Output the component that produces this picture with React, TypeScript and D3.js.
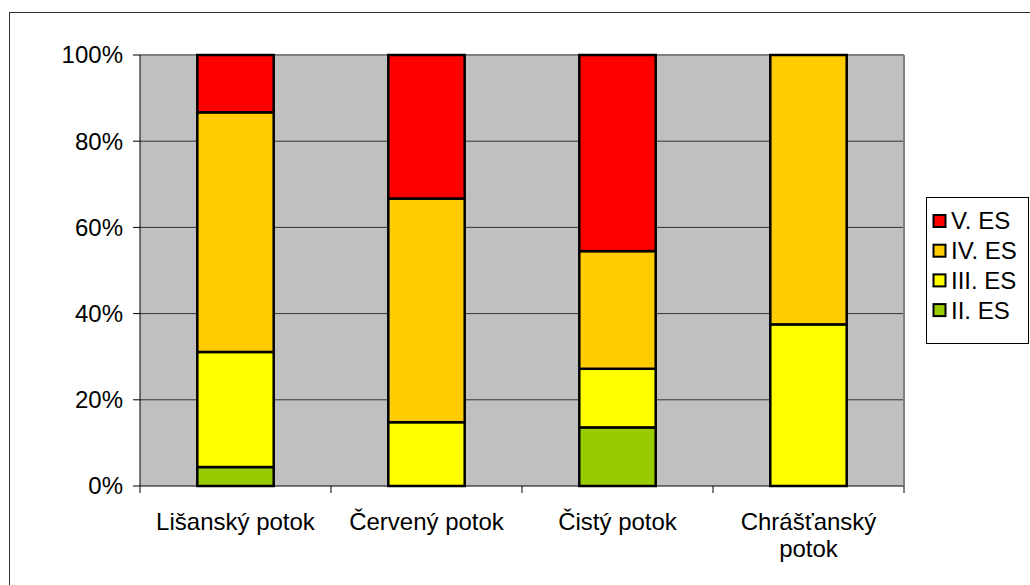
import React from "react";
import * as d3 from "d3";

const categories: string[][] = [["Lišanský potok"], ["Červený potok"], ["Čistý potok"], ["Chrášťanský", "potok"]];
const seriesNames = ["II. ES", "III. ES", "IV. ES", "V. ES"];
const seriesColors = ["#99CC00", "#FFFF00", "#FFCC00", "#FF0000"];
const esII = [4.4, 0, 13.6, 0];
const esIII = [26.7, 14.8, 13.6, 37.5];
const esIV = [55.6, 51.9, 27.3, 62.5];
const esV = [13.3, 33.3, 45.5, 0];
const yTicks = [0, 20, 40, 60, 80, 100];

const W = 1030, H = 585;
const plot = { left: 140, right: 904, top: 55, bottom: 486 };
const FONT = "Liberation Sans, Arial, sans-serif";
const FS = 24;

export default function App() {
  const series = [esII, esIII, esIV, esV];
  const x = d3.scaleBand<number>().domain(d3.range(categories.length)).range([plot.left, plot.right]).paddingInner(0).paddingOuter(0);
  const y = d3.scaleLinear().domain([0, 100]).range([plot.bottom, plot.top]);
  const bw = x.bandwidth() * 0.4;
  const rects: React.ReactNode[] = [];
  categories.forEach((_, i) => {
    const total = series.reduce((s, a) => s + a[i], 0);
    let cum = 0;
    series.forEach((arr, si) => {
      const v = (arr[i] / total) * 100;
      if (v > 0) {
        const y0 = y(cum), y1 = y(cum + v);
        rects.push(
          <rect key={`${i}-${si}`} x={(x(i) as number) + (x.bandwidth() - bw) / 2} y={y1} width={bw} height={y0 - y1}
            fill={seriesColors[si]} stroke="#000" strokeWidth={2.5} />
        );
      }
      cum += v;
    });
  });
  const legendOrder = [3, 2, 1, 0];
  return (
    <svg width={W} height={H} style={{ position: "absolute", left: 0, top: 0 }} fontFamily={FONT}>
      <rect x={0} y={0} width={W} height={H} fill="#fff" />
      <rect x={9.5} y={12.5} width={W + 10} height={H + 10} fill="none" stroke="#333" strokeWidth={1} />
      <rect x={plot.left} y={plot.top} width={plot.right - plot.left} height={plot.bottom - plot.top} fill="#C0C0C0" />
      {yTicks.map((t) => (
        <g key={t}>
          <line x1={plot.left} x2={plot.right} y1={y(t)} y2={y(t)} stroke={t === 0 ? "#000" : "#333"} strokeWidth={1} />
          <line x1={plot.left - 7} x2={plot.left} y1={y(t)} y2={y(t)} stroke="#000" />
          <text x={123} y={y(t)} dy="0.35em" textAnchor="end" fontSize={FS} fill="#000">{t}%</text>
        </g>
      ))}
      <line x1={plot.left} x2={plot.right} y1={plot.top} y2={plot.top} stroke="#808080" strokeWidth={2} />
      <line x1={plot.right} x2={plot.right} y1={plot.top} y2={plot.bottom} stroke="#808080" strokeWidth={2} />
      <line x1={plot.left} x2={plot.left} y1={plot.top} y2={plot.bottom} stroke="#000" strokeWidth={1} />
      {d3.range(categories.length + 1).map((i) => {
        const xx = plot.left + i * x.bandwidth();
        return <line key={i} x1={xx} x2={xx} y1={plot.bottom} y2={plot.bottom + 7} stroke="#000" />;
      })}
      {rects}
      {categories.map((lines, i) => (
        <text key={i} x={(x(i) as number) + x.bandwidth() / 2} y={530} textAnchor="middle" fontSize={FS} fill="#000">
          {lines.map((l, li) => (
            <tspan key={li} x={(x(i) as number) + x.bandwidth() / 2} dy={li === 0 ? 0 : 27}>{l}</tspan>
          ))}
        </text>
      ))}
      <rect x={926.5} y={197.5} width={102} height={146} fill="#fff" stroke="#000" strokeWidth={1} />
      {legendOrder.map((si, k) => {
        const cy = 221 + k * 29.7;
        return (
          <g key={si}>
            <rect x={933.5} y={cy - 6} width={12} height={12} fill={seriesColors[si]} stroke="#000" strokeWidth={2} />
            <text x={951} y={cy} dy="0.35em" fontSize={FS} fill="#000">{seriesNames[si]}</text>
          </g>
        );
      })}
    </svg>
  );
}
